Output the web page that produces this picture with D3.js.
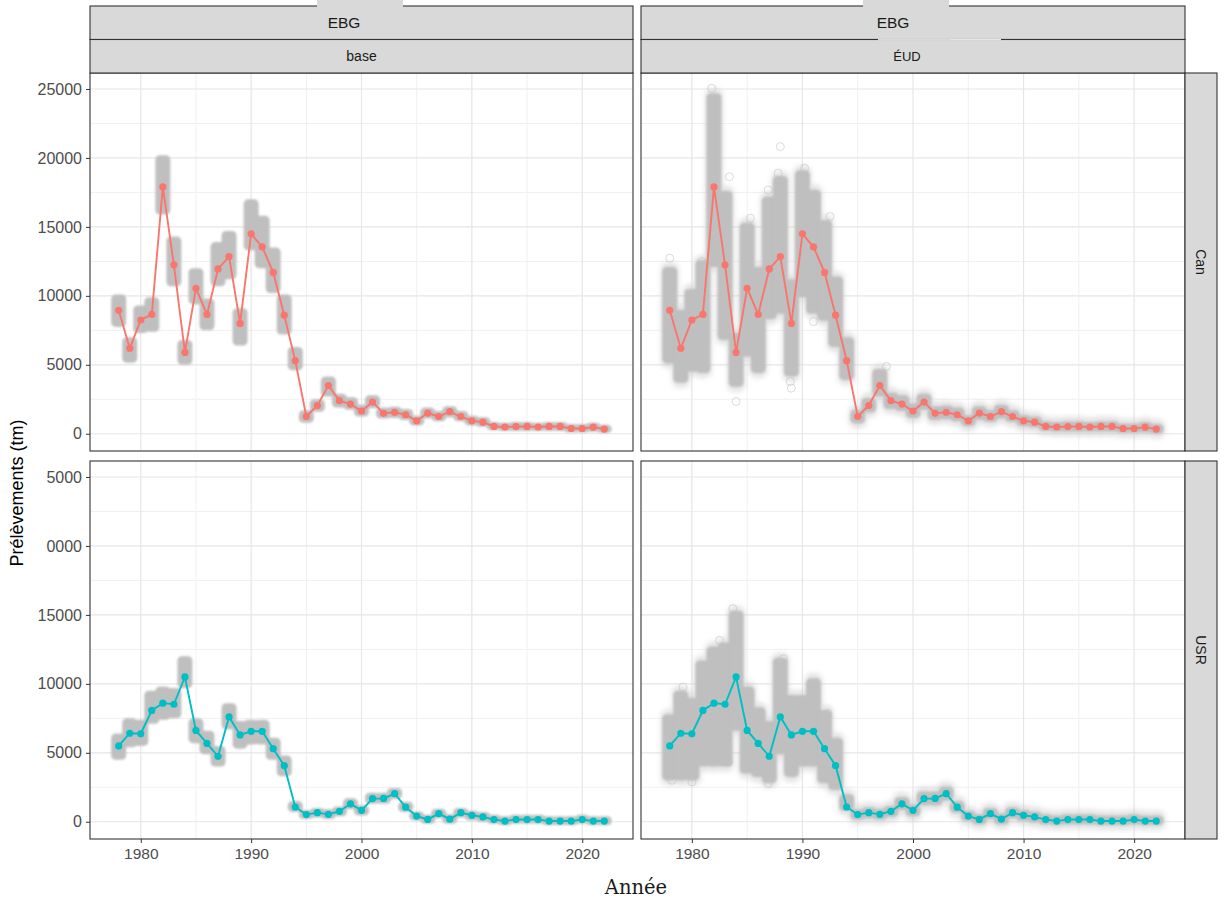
<!DOCTYPE html>
<html>
<head>
<meta charset="utf-8">
<script src="https://cdn.jsdelivr.net/npm/d3@7"></script>
<style>
  body { margin: 0; background: #ffffff; }
  svg { display: block; }
</style>
</head>
<body>
<svg id="chart" width="1225" height="902"></svg>
<script>
// ---- Data -------------------------------------------------------------
const years = [1978, 1979, 1980, 1981, 1982, 1983, 1984, 1985, 1986, 1987,
  1988, 1989, 1990, 1991, 1992, 1993, 1994, 1995, 1996, 1997,
  1998, 1999, 2000, 2001, 2002, 2003, 2004, 2005, 2006, 2007,
  2008, 2009, 2010, 2011, 2012, 2013, 2014, 2015, 2016, 2017,
  2018, 2019, 2020, 2021, 2022];

// Reported removals (t)
const canCatch = [8950, 6200, 8250, 8650, 17900, 12250, 5900, 10550, 8650, 11950,
  12850, 8000, 14500, 13550, 11700, 8600, 5300, 1250, 2050, 3500,
  2400, 2150, 1650, 2300, 1480, 1560, 1380, 940, 1500, 1250,
  1600, 1250, 940, 840, 530, 490, 520, 530, 490, 530,
  530, 380, 380, 480, 340];

const usrCatch = [5500, 6420, 6380, 8070, 8600, 8520, 10500, 6620, 5680, 4750,
  7600, 6300, 6560, 6560, 5300, 4070, 1070, 520, 660, 540,
  760, 1300, 830, 1680, 1690, 2040, 1060, 410, 170, 590,
  190, 660, 470, 350, 160, 50, 160, 160, 160, 50,
  50, 50, 160, 50, 50];

// Spread of the simulated removals, per year (low / high)
const canBaseLo = [7750, 5150, 7300, 7400, 15900, 10700, 5000, 9400, 7500, 10700,
  11200, 6400, 13300, 12000, 10200, 7200, 4600, 800, 1600, 2700,
  1900, 1750, 1250, 1850, 1100, 1150, 1000, 600, 1100, 900,
  1200, 900, 600, 500, 250, 200, 200, 200, 200, 200,
  200, 100, 100, 150, 50];
const canBaseHi = [10100, 7000, 9300, 9900, 20200, 14300, 6800, 12000, 9800, 13900,
  14700, 9100, 17000, 15800, 13500, 10100, 6300, 1700, 2500, 4150,
  2900, 2650, 2100, 2800, 1900, 1950, 1800, 1300, 1900, 1650,
  2000, 1650, 1300, 1200, 850, 800, 850, 850, 800, 850,
  850, 700, 700, 800, 650];

const canEudLo = [5100, 3700, 4500, 4400, 12100, 6800, 3400, 5600, 4400, 8300,
  8700, 4150, 9900, 8700, 8200, 6300, 3900, 750, 1550, 2700,
  1800, 1650, 1150, 1750, 1000, 1050, 900, 550, 1000, 850,
  1100, 850, 550, 450, 200, 150, 150, 150, 150, 150,
  150, 50, 50, 100, 0];
const canEudHi = [12100, 9000, 10500, 12600, 24700, 17600, 7300, 15300, 12100, 17200,
  18700, 11200, 19100, 17700, 15500, 11400, 7000, 1750, 2600, 4700,
  3000, 2800, 2200, 2900, 2000, 2050, 1900, 1350, 2000, 1700,
  2100, 1700, 1350, 1250, 900, 850, 900, 900, 850, 900,
  900, 750, 750, 850, 700];

const usrBaseLo = [4500, 5400, 5500, 7100, 7400, 7500, 9700, 5700, 4900, 4000,
  6700, 5300, 5600, 5600, 4500, 3300, 700, 200, 300, 200,
  400, 900, 450, 1300, 1300, 1650, 700, 100, -150, 250,
  -150, 300, 100, 0, -150, -250, -150, -150, -150, -250,
  -250, -250, -150, -250, -250];
const usrBaseHi = [6400, 7500, 7400, 9500, 9800, 9700, 12000, 7500, 6600, 5500,
  8600, 7300, 7400, 7400, 6100, 4800, 1500, 850, 1000, 900,
  1100, 1700, 1200, 2100, 2100, 2450, 1450, 750, 500, 950,
  550, 1000, 800, 700, 500, 400, 500, 500, 500, 400,
  400, 400, 500, 400, 400];

const usrEudLo = [3000, 3000, 3000, 4000, 4000, 4000, 6600, 3500, 3250, 2800,
  4900, 3250, 4000, 4000, 2800, 2300, 800, 150, 250, 150,
  350, 850, 400, 1200, 1200, 1550, 650, 50, -200, 200,
  -200, 250, 50, -50, -200, -250, -200, -200, -200, -250,
  -250, -250, -200, -250, -250];
const usrEudHi = [7800, 9500, 9000, 11700, 12700, 13000, 15300, 9800, 8300, 7300,
  11900, 9200, 9200, 10400, 8100, 6100, 2000, 900, 1050, 950,
  1150, 1800, 1250, 2200, 2200, 2550, 1500, 800, 550, 1000,
  600, 1050, 850, 750, 550, 450, 550, 550, 550, 450,
  450, 450, 550, 450, 450];

// Isolated simulated draws lying outside the dense spread (ÉUD run)
const canEudOutYear = [1981.8, 1988.0, 1983.4, 1987.8, 1990.2, 1984.0, 1988.9, 1989.0,
  1978.0, 1980.9, 1991.0, 1985.3, 1986.9, 1992.5, 1997.6];
const canEudOutVal = [25050, 20820, 18640, 18890, 19250, 2340, 3790, 3310,
  12730, 12490, 8140, 15630, 17680, 15750, 4880];
const usrEudOutYear = [1983.7, 1988.3, 1979.2, 1982.5, 1991.0, 1980.0, 1978.2, 1983.3,
  1986.9, 1992.3];
const usrEudOutVal = [15450, 11830, 9770, 13150, 9770, 2880, 3010, 4330,
  2770, 7840];

const xTicks = [1980, 1990, 2000, 2010, 2020];
const xMinorTicks = [1985, 1995, 2005, 2015];
const yTicks = [0, 5000, 10000, 15000, 20000, 25000];
const yMinorTicks = [2500, 7500, 12500, 17500, 22500];
const yTickLabelsTop = ["0", "5000", "10000", "15000", "20000", "25000"];
const yTickLabelsBottom = ["0", "5000", "10000", "15000", "0000", "5000"];

const groupLabel = "EBG";
const columnLabels = ["base", "ÉUD"];
const rowLabels = ["Can", "USR"];
const seriesColors = ["#F8766D", "#00BFC4"];

// ---- Layout -----------------------------------------------------------
const svg = d3.select("#chart");
const colX = [[90, 633], [641, 1185]];
const rowY = [[73, 451], [461, 839]];
const stripTop = 6, stripMid = 39.5;
const sideStrip = [1185, 1217];
const groupLabelX = [344, 893];

const rows = [
  { catch: canCatch, lo: [canBaseLo, canEudLo], hi: [canBaseHi, canEudHi],
    outYear: canEudOutYear, outVal: canEudOutVal,
    labels: yTickLabelsTop, color: seriesColors[0] },
  { catch: usrCatch, lo: [usrBaseLo, usrEudLo], hi: [usrBaseHi, usrEudHi],
    outYear: usrEudOutYear, outVal: usrEudOutVal,
    labels: yTickLabelsBottom, color: seriesColors[1] }
];

const defs = svg.append("defs");
defs.append("filter").attr("id", "soft")
  .attr("x", "-20%").attr("y", "-20%").attr("width", "140%").attr("height", "140%")
  .append("feGaussianBlur").attr("stdDeviation", 1.0);
defs.append("filter").attr("id", "haze")
  .attr("x", "-50%").attr("y", "-50%").attr("width", "200%").attr("height", "200%")
  .append("feGaussianBlur").attr("stdDeviation", 2.5);

const font = "'Liberation Sans', Arial, sans-serif";

rows.forEach((row, r) => {
  colX.forEach((cx, c) => {
    const [x0, x1] = cx;
    const [y0, y1] = rowY[r];
    const x = d3.scaleLinear().domain([1975.4, 2024.6]).range([x0, x1]);
    const y = d3.scaleLinear().domain([-1250, 26160]).range([y1, y0]);

    const clipId = `clip-${r}-${c}`;
    defs.append("clipPath").attr("id", clipId)
      .append("rect").attr("x", x0).attr("y", y0).attr("width", x1 - x0).attr("height", y1 - y0);

    const g = svg.append("g");

    // grid
    const grid = g.append("g");
    grid.selectAll(".xmin").data(xMinorTicks).join("line")
      .attr("x1", d => x(d)).attr("x2", d => x(d)).attr("y1", y0).attr("y2", y1)
      .attr("stroke", "#f0f0f0").attr("stroke-width", 1);
    grid.selectAll(".ymin").data(yMinorTicks).join("line")
      .attr("y1", d => y(d)).attr("y2", d => y(d)).attr("x1", x0).attr("x2", x1)
      .attr("stroke", "#f0f0f0").attr("stroke-width", 1);
    grid.selectAll(".xmaj").data(xTicks).join("line")
      .attr("x1", d => x(d)).attr("x2", d => x(d)).attr("y1", y0).attr("y2", y1)
      .attr("stroke", "#e6e6e6").attr("stroke-width", 1.2);
    grid.selectAll(".ymaj").data(yTicks).join("line")
      .attr("y1", d => y(d)).attr("y2", d => y(d)).attr("x1", x0).attr("x2", x1)
      .attr("stroke", "#e6e6e6").attr("stroke-width", 1.2);

    // simulated spread per year
    const lo = row.lo[c], hi = row.hi[c];
    const cloud = g.append("g").attr("clip-path", `url(#${clipId})`);
    if (c === 1) {
      cloud.append("g").attr("filter", "url(#haze)").attr("opacity", 0.5)
        .selectAll("rect").data(years).join("rect")
        .attr("x", d => x(d) - 9).attr("width", 18)
        .attr("y", (d, i) => y(hi[i]) - 5)
        .attr("height", (d, i) => y(lo[i]) - y(hi[i]) + 10)
        .attr("rx", 7).attr("fill", "#c8c8c8");
      cloud.append("g").selectAll("circle").data(row.outYear).join("circle")
        .attr("cx", d => x(d)).attr("cy", (d, i) => y(row.outVal[i]))
        .attr("r", 4).attr("fill", "none")
        .attr("stroke", "#bdbdbd").attr("stroke-opacity", 0.55).attr("stroke-width", 1);
    }
    cloud.append("g").attr("filter", "url(#soft)")
      .selectAll("rect").data(years).join("rect")
      .attr("x", d => x(d) - 7.5).attr("width", 15)
      .attr("y", (d, i) => y(hi[i]))
      .attr("height", (d, i) => Math.max(8, y(lo[i]) - y(hi[i])))
      .attr("rx", 4.5).attr("fill", "#bfbfbf");

    // series line + points
    const line = d3.line().x((d, i) => x(years[i])).y(d => y(d));
    g.append("path").datum(row.catch)
      .attr("d", line).attr("fill", "none")
      .attr("stroke", row.color).attr("stroke-width", 1.9);
    g.selectAll(".pt").data(row.catch).join("circle")
      .attr("cx", (d, i) => x(years[i])).attr("cy", d => y(d))
      .attr("r", 3.6).attr("fill", row.color);

    // panel border
    g.append("rect").attr("x", x0).attr("y", y0)
      .attr("width", x1 - x0).attr("height", y1 - y0)
      .attr("fill", "none").attr("stroke", "#333333").attr("stroke-width", 1.1);

    // y axis (left column only)
    if (c === 0) {
      const yAxis = d3.axisLeft(y).tickValues(yTicks)
        .tickFormat((d, i) => row.labels[i]).tickSize(4).tickPadding(4);
      const ya = g.append("g").attr("transform", `translate(${x0},0)`).call(yAxis);
      ya.select(".domain").remove();
      ya.selectAll(".tick line").attr("stroke", "#333333");
      ya.selectAll(".tick text").attr("fill", "#4d4d4d")
        .style("font-family", font).style("font-size", "16px");
    }
    // x axis (bottom row only)
    if (r === 1) {
      const xAxis = d3.axisBottom(x).tickValues(xTicks)
        .tickFormat(d3.format("d")).tickSize(4).tickPadding(5);
      const xa = g.append("g").attr("transform", `translate(0,${y1})`).call(xAxis);
      xa.select(".domain").remove();
      xa.selectAll(".tick line").attr("stroke", "#333333");
      xa.selectAll(".tick text").attr("fill", "#4d4d4d")
        .style("font-family", font).style("font-size", "15.5px");
    }
  });
});

// ---- Strips -----------------------------------------------------------
const strips = svg.append("g");
colX.forEach(([x0, x1], c) => {
  strips.append("rect").attr("x", x0).attr("y", stripTop)
    .attr("width", x1 - x0).attr("height", stripMid - stripTop)
    .attr("fill", "#d9d9d9").attr("stroke", "#333333").attr("stroke-width", 1.1);
  strips.append("rect").attr("x", x0).attr("y", stripMid)
    .attr("width", x1 - x0).attr("height", rowY[0][0] - stripMid)
    .attr("fill", "#d9d9d9").attr("stroke", "#333333").attr("stroke-width", 1.1);
  strips.append("text").attr("x", groupLabelX[c]).attr("y", (stripTop + stripMid) / 2)
    .attr("text-anchor", "middle").attr("dominant-baseline", "central")
    .attr("fill", "#1a1a1a").style("font-family", font).style("font-size", "15.5px")
    .text(groupLabel);
  strips.append("text").attr("x", (x0 + x1) / 2 - (c === 0 ? 0 : 6)).attr("y", (stripMid + rowY[0][0]) / 2)
    .attr("text-anchor", "middle").attr("dominant-baseline", "central")
    .attr("fill", "#1a1a1a").style("font-family", font)
    .style("font-size", c === 0 ? "14px" : "13px")
    .text(columnLabels[c]);
});
rowY.forEach(([y0, y1], r) => {
  strips.append("rect").attr("x", sideStrip[0]).attr("y", y0)
    .attr("width", sideStrip[1] - sideStrip[0]).attr("height", y1 - y0)
    .attr("fill", "#d9d9d9").attr("stroke", "#333333").attr("stroke-width", 1.1);
  const cx = (sideStrip[0] + sideStrip[1]) / 2, cy = (y0 + y1) / 2;
  strips.append("text").attr("transform", `translate(${cx},${cy}) rotate(90)`)
    .attr("text-anchor", "middle").attr("dominant-baseline", "central")
    .attr("fill", "#1a1a1a").style("font-family", font).style("font-size", "14px")
    .text(rowLabels[r]);
});

// light tabs over the strip tops
strips.append("rect").attr("x", 317).attr("y", 0).attr("width", 86).attr("height", 7.5)
  .attr("fill", "#d9d9d9");
strips.append("rect").attr("x", 863).attr("y", 0).attr("width", 86).attr("height", 7.5)
  .attr("fill", "#d9d9d9");
strips.append("rect").attr("x", 878).attr("y", stripMid - 1.2).attr("width", 123).attr("height", 2.4)
  .attr("fill", "#d9d9d9");
strips.append("line").attr("x1", 950).attr("x2", 1001).attr("y1", stripMid).attr("y2", stripMid)
  .attr("stroke", "#e6e6e6").attr("stroke-width", 1);

// ---- Axis titles ------------------------------------------------------
svg.append("text").attr("transform", "translate(17,493) rotate(-90)")
  .attr("text-anchor", "middle").attr("dominant-baseline", "central")
  .attr("fill", "#000000").style("font-family", font).style("font-size", "18px")
  .text("Prélèvements (tm)");
svg.append("text").attr("x", 636).attr("y", 887)
  .attr("text-anchor", "middle").attr("dominant-baseline", "central")
  .attr("fill", "#1a1a1a").style("font-family", "'DejaVu Serif', 'Liberation Serif', serif")
  .style("font-size", "19.5px")
  .text("Année");
</script>
</body>
</html>
